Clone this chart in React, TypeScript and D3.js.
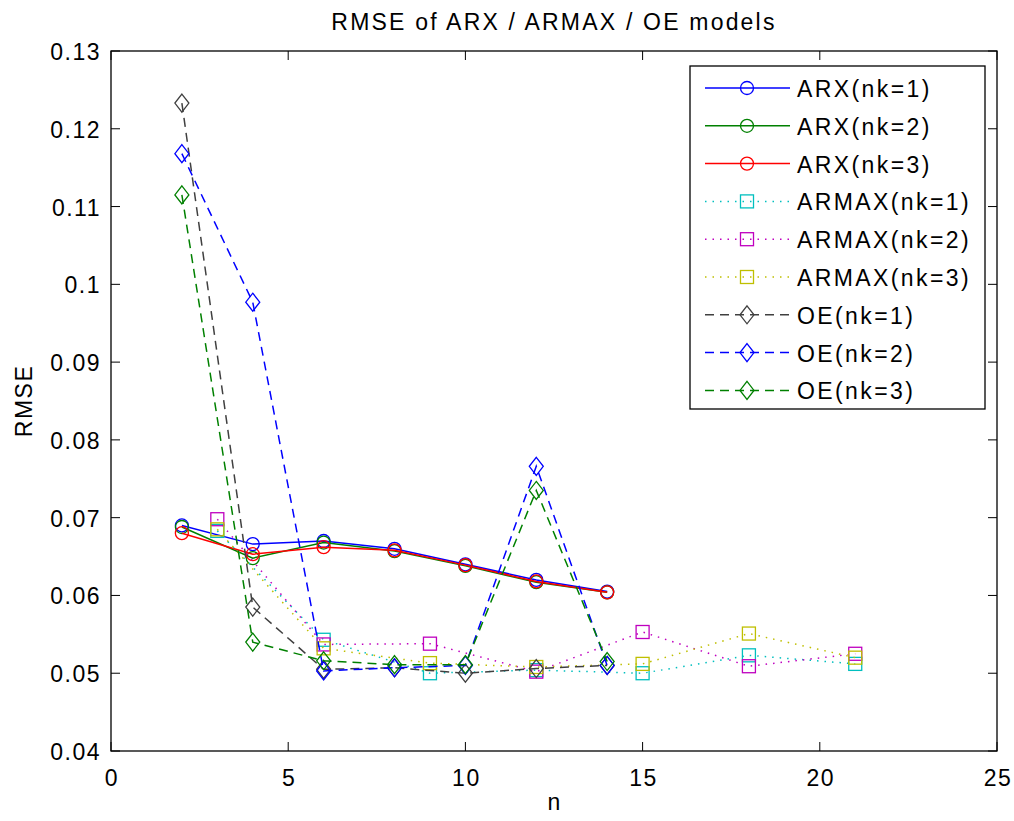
import React from "react";
import * as d3 from "d3";

// model orders
const nArx = [2, 4, 6, 8, 10, 12, 14];
const nArmax = [3, 6, 9, 12, 15, 18, 21];
const nOe = [2, 4, 6, 8, 10, 12, 14];

// RMSE values
const arx1 = [0.069, 0.0666, 0.067, 0.066, 0.064, 0.062, 0.0605];
const arx2 = [0.0688, 0.0648, 0.0668, 0.0657, 0.0638, 0.0617, 0.0604];
const arx3 = [0.068, 0.0653, 0.0662, 0.0658, 0.0639, 0.0618, 0.0604];
const armax1 = [0.0683, 0.0543, 0.05, 0.0504, 0.05, 0.0523, 0.0512];
const armax2 = [0.0698, 0.0537, 0.0538, 0.0502, 0.0553, 0.0509, 0.0525];
const armax3 = [0.0685, 0.0532, 0.0513, 0.0508, 0.0512, 0.0551, 0.052];
const oe1 = [0.1233, 0.0585, 0.0505, 0.0507, 0.05, 0.0506, 0.051];
const oe2 = [0.1168, 0.0977, 0.0503, 0.0507, 0.051, 0.0766, 0.051];
const oe3 = [0.1115, 0.054, 0.0516, 0.0511, 0.0511, 0.0735, 0.0515];

const xTicks = [0, 5, 10, 15, 20, 25];
const yTicks = [0.04, 0.05, 0.06, 0.07, 0.08, 0.09, 0.1, 0.11, 0.12, 0.13];

type Series = {
  name: string;
  xs: number[];
  ys: number[];
  color: string;
  dash: string | undefined;
  marker: "circle" | "square" | "diamond";
};

const series: Series[] = [
  { name: "ARX(nk=1)", xs: nArx, ys: arx1, color: "#0000ff", dash: undefined, marker: "circle" },
  { name: "ARX(nk=2)", xs: nArx, ys: arx2, color: "#008000", dash: undefined, marker: "circle" },
  { name: "ARX(nk=3)", xs: nArx, ys: arx3, color: "#ff0000", dash: undefined, marker: "circle" },
  { name: "ARMAX(nk=1)", xs: nArmax, ys: armax1, color: "#00bfbf", dash: "1.5 6", marker: "square" },
  { name: "ARMAX(nk=2)", xs: nArmax, ys: armax2, color: "#bf00bf", dash: "1.5 6", marker: "square" },
  { name: "ARMAX(nk=3)", xs: nArmax, ys: armax3, color: "#bfbf00", dash: "1.5 6", marker: "square" },
  { name: "OE(nk=1)", xs: nOe, ys: oe1, color: "#404040", dash: "9 6", marker: "diamond" },
  { name: "OE(nk=2)", xs: nOe, ys: oe2, color: "#0000ff", dash: "9 6", marker: "diamond" },
  { name: "OE(nk=3)", xs: nOe, ys: oe3, color: "#008000", dash: "9 6", marker: "diamond" },
];

const W = 1014;
const H = 821;
const left = 111;
const right = 997;
const top = 51;
const bottom = 751;
const font = "'Liberation Sans', Arial, sans-serif";

function Marker({ kind, x, y, color }: { kind: string; x: number; y: number; color: string }) {
  if (kind === "circle") {
    return <circle cx={x} cy={y} r={6.5} fill="none" stroke={color} strokeWidth={1.3} />;
  }
  if (kind === "square") {
    return <rect x={x - 6.5} y={y - 6.5} width={13} height={13} fill="none" stroke={color} strokeWidth={1.3} />;
  }
  return (
    <path
      d={`M${x},${y - 9}L${x + 7},${y}L${x},${y + 9}L${x - 7},${y}Z`}
      fill="none"
      stroke={color}
      strokeWidth={1.3}
    />
  );
}

export default function App() {
  const x = d3.scaleLinear().domain([0, 25]).range([left, right]);
  const y = d3.scaleLinear().domain([0.04, 0.13]).range([bottom, top]);
  const line = d3.line<[number, number]>().x((d) => x(d[0])).y((d) => y(d[1]));

  const legX = 690;
  const legY = 66;
  const legW = 295;
  const legH = 343;
  const rowH = 37.8;

  return (
    <svg width={W} height={H} style={{ display: "block", position: "absolute", left: 0, top: 0, background: "#fff" }}>
      <rect x={0} y={0} width={W} height={H} fill="#fff" />
      <text x={(left + right) / 2} y={30} textAnchor="middle" fontFamily={font} fontSize={23} letterSpacing={2.2}>
        RMSE of ARX / ARMAX / OE models
      </text>

      {/* ticks */}
      {xTicks.map((t) => (
        <g key={"x" + t}>
          <line x1={x(t)} x2={x(t)} y1={bottom} y2={bottom - 9} stroke="#000" />
          <line x1={x(t)} x2={x(t)} y1={top} y2={top + 9} stroke="#000" />
          <text x={x(t) + 1} y={bottom + 35} textAnchor="middle" fontFamily={font} fontSize={23} letterSpacing={1.5}>
            {t}
          </text>
        </g>
      ))}
      {yTicks.map((t) => (
        <g key={"y" + t}>
          <line x1={left} x2={left + 9} y1={y(t)} y2={y(t)} stroke="#000" />
          <line x1={right} x2={right - 9} y1={y(t)} y2={y(t)} stroke="#000" />
          <text x={left - 10} y={y(t) + 9} textAnchor="end" fontFamily={font} fontSize={23} letterSpacing={1.5}>
            {String(t)}
          </text>
        </g>
      ))}
      <rect x={left} y={top} width={right - left} height={bottom - top} fill="none" stroke="#000" strokeWidth={1.3} />

      <text x={(left + right) / 2} y={810} textAnchor="middle" fontFamily={font} fontSize={23}>
        n
      </text>
      <text
        transform={`translate(32, ${(top + bottom) / 2}) rotate(-90)`}
        textAnchor="middle"
        fontFamily={font}
        fontSize={23}
        letterSpacing={1.5}
      >
        RMSE
      </text>

      {/* series */}
      {series.map((s) => {
        const pts = s.xs.map((v, i) => [v, s.ys[i]] as [number, number]);
        return (
          <g key={s.name}>
            <path d={line(pts) || ""} fill="none" stroke={s.color} strokeWidth={1.5} strokeDasharray={s.dash} />
            {pts.map((p, i) => (
              <Marker key={i} kind={s.marker} x={x(p[0])} y={y(p[1])} color={s.color} />
            ))}
          </g>
        );
      })}

      {/* legend */}
      <rect x={legX} y={legY} width={legW} height={legH} fill="#fff" stroke="#000" strokeWidth={1.3} />
      {series.map((s, i) => {
        const cy = legY + 22 + i * rowH;
        return (
          <g key={"leg" + s.name}>
            <line
              x1={legX + 15}
              x2={legX + 100}
              y1={cy}
              y2={cy}
              stroke={s.color}
              strokeWidth={1.5}
              strokeDasharray={s.dash}
            />
            <Marker kind={s.marker} x={legX + 57} y={cy} color={s.color} />
            <text x={legX + 107} y={cy + 9} fontFamily={font} fontSize={23} letterSpacing={2.4}>
              {s.name}
            </text>
          </g>
        );
      })}
    </svg>
  );
}
